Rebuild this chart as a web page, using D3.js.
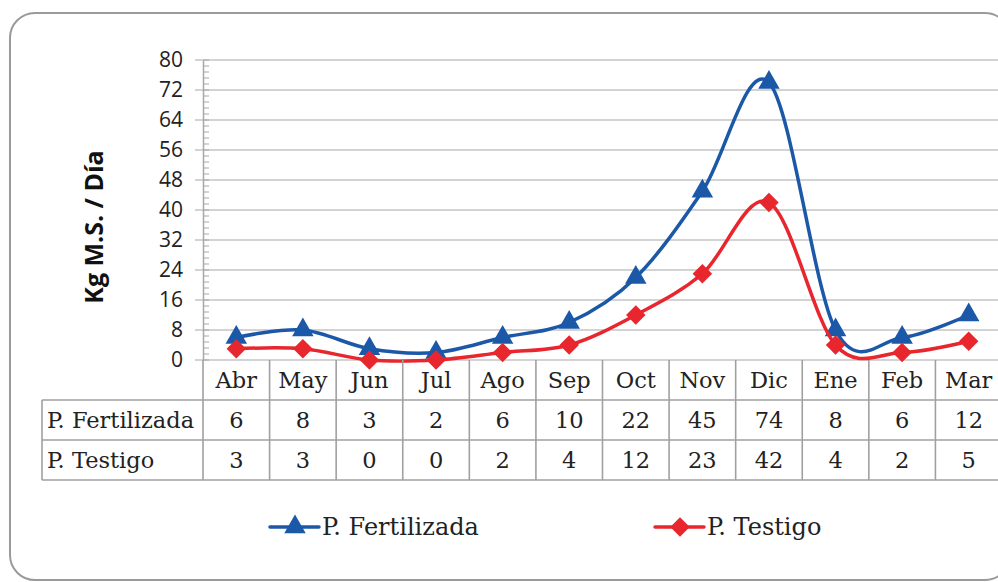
<!DOCTYPE html>
<html lang="es">

<head>
    <meta charset="UTF-8">
    <script src="https://d3js.org/d3.v7.min.js"></script>
    <title>Kg M.S. / Día</title>
    <style>
        body { margin: 0; background: #fff; }
        .serif { font-family: "DejaVu Serif", "Liberation Serif", serif; }
        .sans { font-family: "Open Sans", "Noto Sans", sans-serif; }
    </style>
</head>

<body>
    <svg id="chart" width="998" height="582"></svg>

    <script>
        const months = ["Abr", "May", "Jun", "Jul", "Ago", "Sep", "Oct", "Nov", "Dic", "Ene", "Feb", "Mar"];
        const fertilizada = [6, 8, 3, 2, 6, 10, 22, 45, 74, 8, 6, 12];
        const testigo = [3, 3, 0, 0, 2, 4, 12, 23, 42, 4, 2, 5];
        const yTicks = [0, 8, 16, 24, 32, 40, 48, 56, 64, 72, 80];

        const series = [
            { name: "P. Fertilizada", values: fertilizada, color: "#1b58a8", marker: "triangle" },
            { name: "P. Testigo", values: testigo, color: "#e8262e", marker: "diamond" }
        ];

        const svg = d3.select("#chart");
        const gridColor = "#a8a8a8";

        // marker shapes
        const drawMarker = (sel, type, color) => {
            if (type === "triangle") {
                sel.append("path")
                    .attr("d", d3.symbol().type(d3.symbolTriangle).size(200))
                    .attr("fill", color);
            } else {
                sel.append("path")
                    .attr("transform", "rotate(45)")
                    .attr("d", d3.symbol().type(d3.symbolSquare).size(190))
                    .attr("fill", color);
            }
        };

        // outer frame
        svg.append("rect")
            .attr("x", 10).attr("y", 13)
            .attr("width", 1000).attr("height", 567)
            .attr("rx", 25)
            .attr("fill", "none")
            .attr("stroke", "#9a9a9a")
            .attr("stroke-width", 2);

        const xScale = d3.scaleBand()
            .domain(months)
            .range([203, 1002]);

        const yScale = d3.scaleLinear()
            .domain([0, 80])
            .range([360, 60]);

        // gridlines
        svg.append("g")
            .selectAll("line")
            .data(yTicks)
            .join("line")
            .attr("x1", 195).attr("x2", 1002)
            .attr("y1", d => yScale(d)).attr("y2", d => yScale(d))
            .attr("stroke", gridColor)
            .attr("stroke-width", 1.2);

        // y axis with minor ticks inside
        const yAxis = d3.axisLeft(yScale)
            .tickValues(yTicks)
            .tickSize(0)
            .tickPadding(20);

        const gy = svg.append("g")
            .attr("transform", "translate(203,0)")
            .call(yAxis);
        gy.attr("font-family", null);
        gy.select(".domain").attr("stroke", gridColor).attr("stroke-width", 1.5);
        gy.selectAll("text")
            .attr("class", "sans")
            .attr("font-size", 21)
            .attr("fill", "#222");

        const minor = d3.range(0, 80.01, 1.6);
        svg.append("g")
            .selectAll("line")
            .data(minor)
            .join("line")
            .attr("x1", 203).attr("x2", 209)
            .attr("y1", d => yScale(d)).attr("y2", d => yScale(d))
            .attr("stroke", gridColor)
            .attr("stroke-width", 1);

        // y axis title
        svg.append("text")
            .attr("class", "sans")
            .attr("transform", "translate(103,227) rotate(-90)")
            .attr("text-anchor", "middle")
            .attr("font-weight", "bold")
            .attr("font-size", 25)
            .attr("fill", "#111")
            .text("Kg M.S. / Día");

        // lines
        const line = d3.line()
            .x((d, i) => xScale(months[i]) + xScale.bandwidth() / 2)
            .y(d => yScale(d))
            .curve(d3.curveCatmullRom.alpha(0));

        series.forEach(s => {
            svg.append("path")
                .datum(s.values)
                .attr("d", line)
                .attr("fill", "none")
                .attr("stroke", s.color)
                .attr("stroke-width", 3.5);

            svg.append("g")
                .selectAll("g")
                .data(s.values)
                .join("g")
                .attr("transform", (d, i) => `translate(${xScale(months[i]) + xScale.bandwidth() / 2},${yScale(d)})`)
                .each(function () { drawMarker(d3.select(this), s.marker, s.color); });
        });

        // data table
        const rowH = 40;
        const tableTop = 360;
        const fontSize = 22.5;
        const table = svg.append("g");
        const lineAttrs = sel => sel.attr("stroke", "#a0a0a0").attr("stroke-width", 1.6);

        // horizontal rules
        [1, 2, 3].forEach(r => {
            table.append("line").attr("x1", 42).attr("x2", 1002)
                .attr("y1", tableTop + r * rowH).attr("y2", tableTop + r * rowH).call(lineAttrs);
        });
        table.append("line").attr("x1", 42).attr("x2", 42)
            .attr("y1", tableTop + rowH).attr("y2", tableTop + 3 * rowH).call(lineAttrs);

        // vertical rules at band edges
        table.selectAll(".vrule")
            .data(months)
            .join("line")
            .attr("class", "vrule")
            .attr("x1", d => xScale(d)).attr("x2", d => xScale(d))
            .attr("y1", tableTop).attr("y2", tableTop + 3 * rowH)
            .call(lineAttrs);

        // month header
        table.selectAll(".month")
            .data(months)
            .join("text")
            .attr("class", "serif")
            .attr("x", d => xScale(d) + xScale.bandwidth() / 2)
            .attr("y", tableTop + rowH / 2 + 8)
            .attr("text-anchor", "middle")
            .attr("font-size", fontSize)
            .attr("fill", "#222")
            .text(d => d);

        series.forEach((s, r) => {
            const y = tableTop + (r + 1) * rowH + rowH / 2 + 8;
            table.append("text")
                .attr("class", "serif")
                .attr("x", 47).attr("y", y)
                .attr("font-size", fontSize)
                .attr("fill", "#222")
                .text(s.name);
            table.append("g")
                .selectAll("text")
                .data(s.values)
                .join("text")
                .attr("class", "serif")
                .attr("x", (d, i) => xScale(months[i]) + xScale.bandwidth() / 2)
                .attr("y", y)
                .attr("text-anchor", "middle")
                .attr("font-size", fontSize)
                .attr("fill", "#222")
                .text(d => d);
        });

        // legend
        const legendX = [270, 655];
        series.forEach((s, i) => {
            const g = svg.append("g").attr("transform", `translate(${legendX[i]},527)`);
            g.append("line")
                .attr("x1", 0).attr("x2", 49)
                .attr("stroke", s.color)
                .attr("stroke-width", 3.5)
                .attr("stroke-linecap", "round");
            const m = g.append("g").attr("transform", "translate(25,0)");
            drawMarker(m, s.marker, s.color);
            g.append("text")
                .attr("class", "serif")
                .attr("x", 52).attr("y", 8)
                .attr("font-size", 24)
                .attr("fill", "#222")
                .text(s.name);
        });
    </script>
</body>

</html>
